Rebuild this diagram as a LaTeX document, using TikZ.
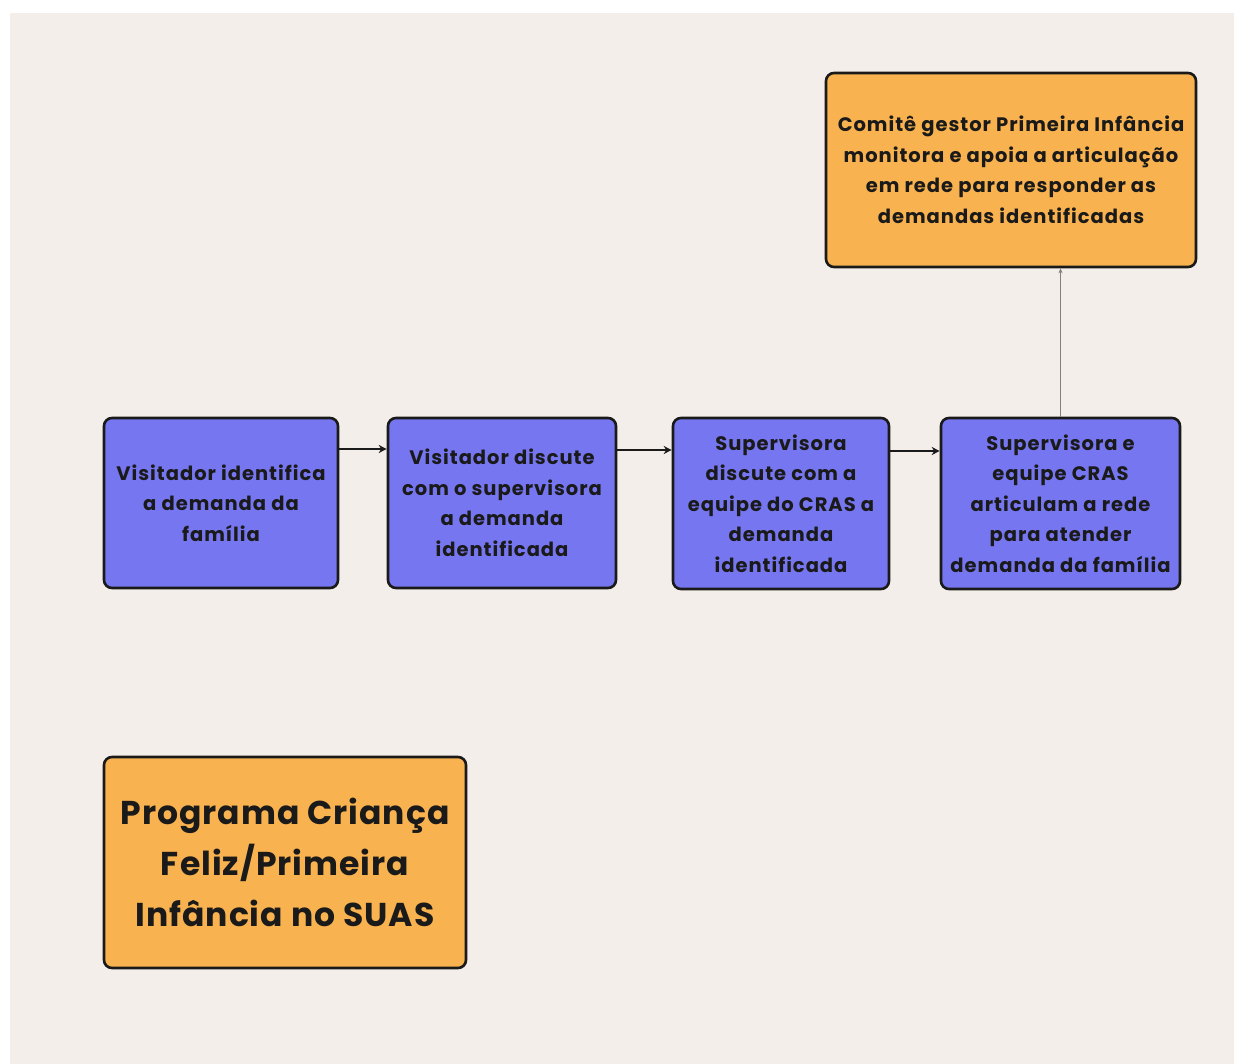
\documentclass[tikz,border=0pt]{standalone}
\usepackage{fontspec}
\setmainfont{Poppins}[BoldFont={Poppins Bold}]
\newfontfamily\boxfont{Poppins Bold}[LetterSpace=5]
\newfontfamily\bigboxfont{Poppins Bold}[LetterSpace=3]
\usetikzlibrary{arrows.meta}
\definecolor{bgbeige}{HTML}{F3EEE9}
\definecolor{boxblue}{HTML}{7676F0}
\definecolor{boxorange}{HTML}{F8B24F}
\definecolor{inkdark}{HTML}{1A1A1A}
\tikzset{
  flowbox/.style={draw=inkdark, line width=2.6pt, rounded corners=8pt, align=center,
    text=inkdark, font=\boxfont\fontsize{19.5}{30.5}\selectfont, inner sep=0pt},
  bluebox/.style={flowbox, fill=boxblue},
  orangebox/.style={flowbox, fill=boxorange},
  flowarrow/.style={draw=inkdark, line width=2.8pt, -{Stealth[length=8pt,width=8pt]}},
  thinarrow/.style={draw=gray, line width=1.2pt, -{Stealth[length=5pt,width=4pt]}}
}
\begin{document}
\begin{tikzpicture}[x=1pt,y=-1pt]
\useasboundingbox (0,0) rectangle (1234,1064);
\fill[white] (0,0) rectangle (1234,1064);
\fill[bgbeige] (10,13) rectangle (1234,1064);
\node[bluebox, minimum width=234pt, minimum height=170pt] (b1) at (221,503) {Visitador identifica\\a demanda da\\família};
\node[bluebox, minimum width=228pt, minimum height=170pt] (b2) at (502,503) {Visitador discute\\com o supervisora\\a demanda\\identificada};
\node[bluebox, minimum width=216pt, minimum height=171pt] (b3) at (781,503.5) {Supervisora\\discute com a\\equipe do CRAS a\\demanda\\identificada};
\node[bluebox, minimum width=239pt, minimum height=171pt] (b4) at (1060.5,503.5) {Supervisora e\\equipe CRAS\\articulam a rede\\para atender\\demanda da família};
\node[orangebox, minimum width=370pt, minimum height=194pt] (top) at (1011,170) {Comitê gestor Primeira Infância\\monitora e apoia a articulação\\em rede para responder as\\demandas identificadas};
\node[orangebox, minimum width=362pt, minimum height=211pt, font=\bigboxfont\fontsize{33}{51}\selectfont] (prog) at (285,862.5) {Programa Criança\\Feliz/Primeira\\Infância no SUAS};
\coordinate (a1s) at (b1.east |- 0,449);
\coordinate (a1e) at (b2.west |- 0,449);
\draw[flowarrow] (a1s) -- (a1e);
\coordinate (a2s) at (b2.east |- 0,450);
\coordinate (a2e) at (b3.west |- 0,450);
\draw[flowarrow] (a2s) -- (a2e);
\coordinate (a3s) at (b3.east |- 0,451);
\coordinate (a3e) at (b4.west |- 0,451);
\draw[flowarrow] (a3s) -- (a3e);
\draw[thinarrow] (b4.north) -- (b4.north |- top.south);
\end{tikzpicture}
\end{document}
